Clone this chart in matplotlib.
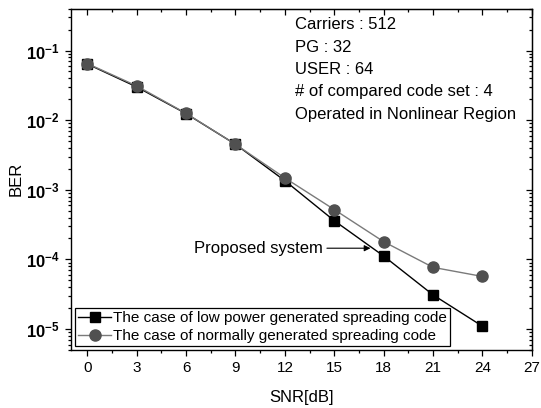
import numpy as np
import matplotlib
matplotlib.use('Agg')
from matplotlib import pyplot as plt
from matplotlib.ticker import FuncFormatter, LogLocator, MultipleLocator, NullFormatter

# BER vs SNR
snr = [0, 3, 6, 9, 12, 15, 18, 21, 24]
ber_low_power = [6.4e-2, 3.0e-2, 1.24e-2, 4.5e-3, 1.35e-3, 3.6e-4, 1.12e-4, 3.1e-5, 1.1e-5]
ber_normal = [6.5e-2, 3.1e-2, 1.25e-2, 4.5e-3, 1.48e-3, 5.2e-4, 1.8e-4, 7.7e-5, 5.7e-5]

label_low = 'The case of low power generated spreading code'
label_normal = 'The case of normally generated spreading code'
info_lines = [
    'Carriers : 512',
    'PG : 32',
    'USER : 64',
    '# of compared code set : 4',
    'Operated in Nonlinear Region',
]

plt.rcParams['font.family'] = ['Liberation Sans', 'DejaVu Sans']
plt.rcParams['mathtext.fontset'] = 'custom'
plt.rcParams['mathtext.rm'] = 'Liberation Sans'
plt.rcParams['mathtext.bf'] = 'Liberation Sans:bold'


def log_label(v, pos):
    e = int(round(np.log10(v)))
    return r'$\mathbf{10^{%d}}$' % e


def style_ticks(a, direction):
    a.tick_params(which='both', direction=direction, width=0.9)
    a.tick_params(which='major', length=4.5)
    a.tick_params(which='minor', length=2.5)


fig = plt.figure(figsize=(5.41, 4.08), dpi=100)
ax = fig.add_axes([0.131, 0.142, 0.852, 0.837])

ax.plot(snr, ber_low_power, color='black', lw=1.0, marker='s', ms=7.5,
        mfc='black', mec='black', label=label_low, zorder=3)
ax.plot(snr, ber_normal, color='#7a7a7a', lw=1.0, marker='o', ms=8,
        mfc='#505050', mec='#505050', label=label_normal, zorder=4)

ax.set_yscale('log')
ax.set_xlim(-1, 27)
ax.set_ylim(5e-6, 0.4)

ax.xaxis.set_major_locator(MultipleLocator(3))
ax.xaxis.set_minor_locator(MultipleLocator(1.5))
ax.yaxis.set_major_locator(LogLocator(base=10, numticks=10))
ax.yaxis.set_minor_locator(LogLocator(base=10, subs=np.arange(2, 10), numticks=10))
ax.yaxis.set_major_formatter(FuncFormatter(log_label))
ax.yaxis.set_minor_formatter(NullFormatter())

style_ticks(ax, 'out')
ax.tick_params(axis='x', labelsize=11)
ax.tick_params(axis='y', labelsize=12)

# top and right ticks point inward
sx = ax.secondary_xaxis('top')
sx.xaxis.set_major_locator(MultipleLocator(3))
sx.xaxis.set_minor_locator(MultipleLocator(1.5))
style_ticks(sx, 'in')
sx.tick_params(labeltop=False)

sy = ax.secondary_yaxis('right')
sy.yaxis.set_major_locator(LogLocator(base=10, numticks=10))
sy.yaxis.set_minor_locator(LogLocator(base=10, subs=np.arange(2, 10), numticks=10))
sy.yaxis.set_minor_formatter(NullFormatter())
style_ticks(sy, 'in')
sy.tick_params(labelright=False)

for s in ax.spines.values():
    s.set_linewidth(1.0)

ax.set_xlabel('SNR[dB]', fontsize=12, labelpad=11)
ax.set_ylabel('BER', fontsize=12, labelpad=2)

ax.text(0.486, 0.975, '\n'.join(info_lines), transform=ax.transAxes,
        ha='left', va='top', fontsize=12, linespacing=1.62)

ax.annotate('Proposed system', xy=(17.2, 1.45e-4), xytext=(14.3, 1.45e-4),
            ha='right', va='center', fontsize=12,
            arrowprops=dict(arrowstyle='-|>', color='black', lw=0.8,
                            shrinkA=1, shrinkB=0, mutation_scale=9))

leg = ax.legend(loc='lower left', fontsize=11, frameon=True, fancybox=False,
                edgecolor='black', framealpha=1, handlelength=2.2,
                handletextpad=0.1, borderpad=0.2, labelspacing=0.25,
                borderaxespad=0.25)
leg.get_frame().set_linewidth(0.9)

fig.savefig('out.png', dpi=100)
